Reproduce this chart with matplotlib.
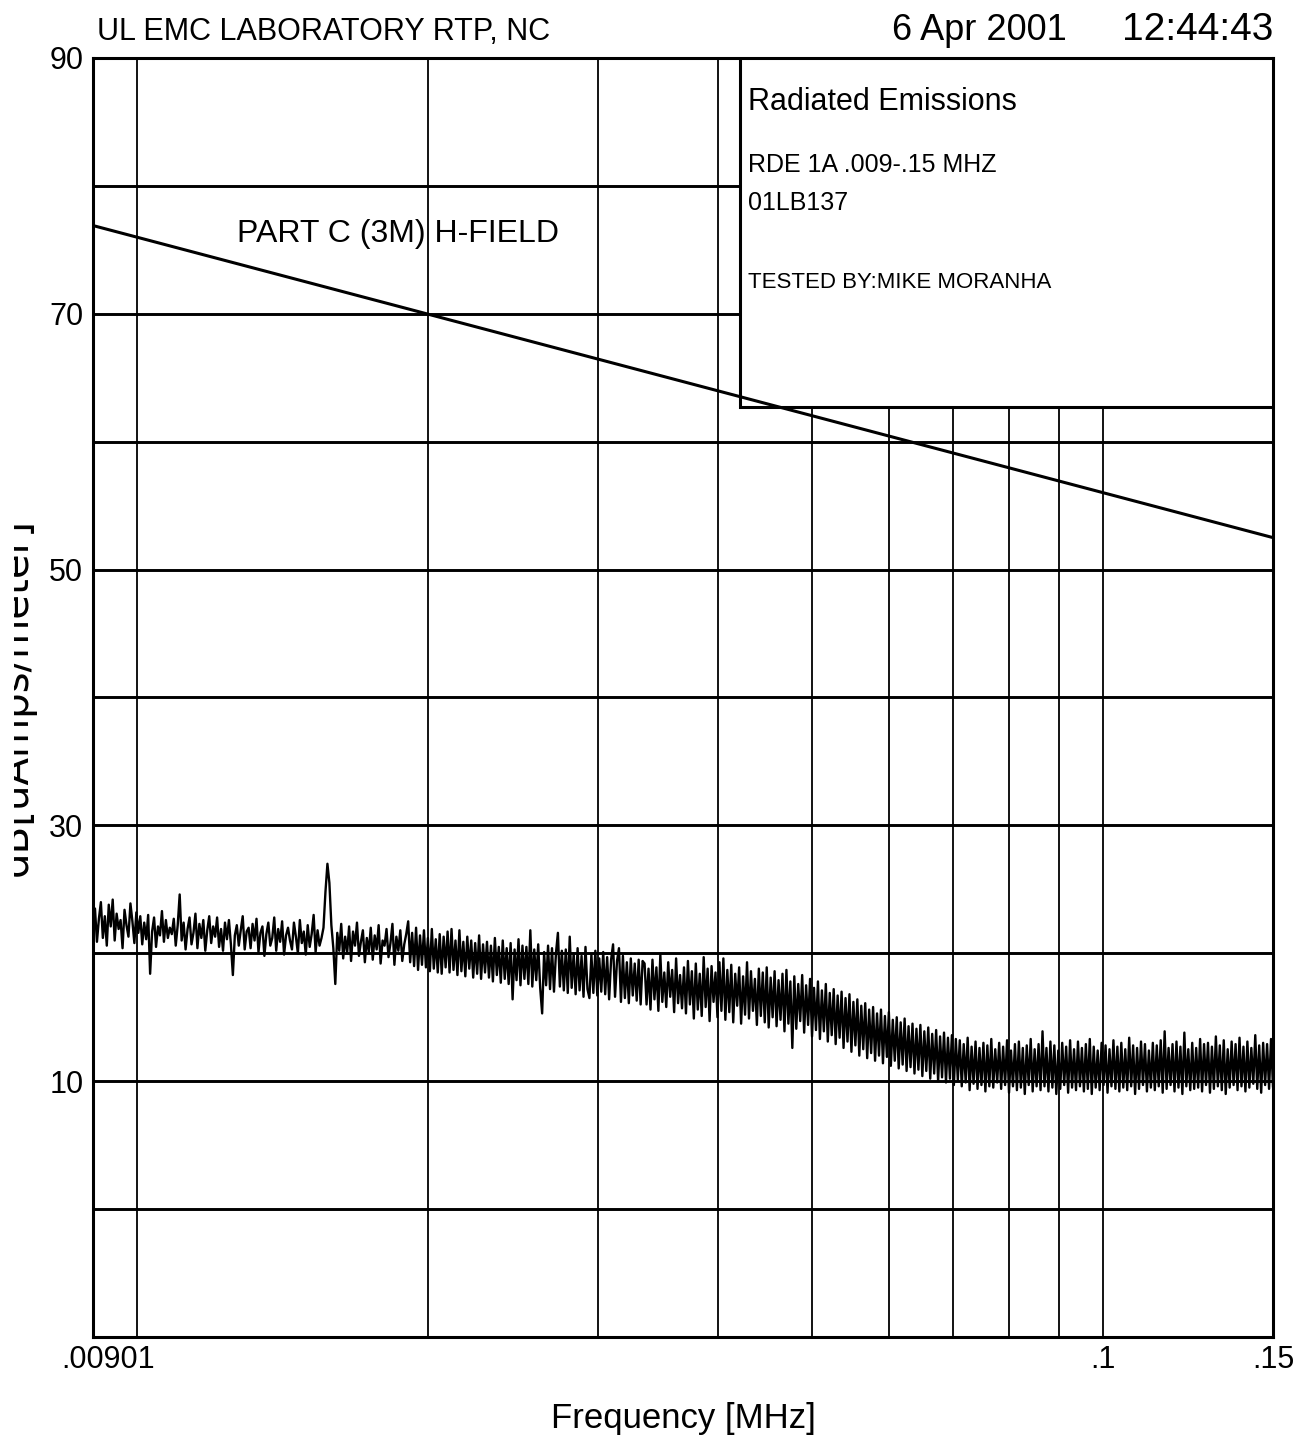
import numpy as np
import matplotlib.pyplot as plt
from matplotlib.patches import Rectangle
from matplotlib.ticker import NullLocator
from matplotlib.transforms import Bbox, TransformedBbox

plt.rcParams['font.family'] = ['Liberation Sans', 'DejaVu Sans']

# sweep range [MHz]
f_start, f_stop = 0.00901, 0.15

# grid
grid_freqs = [0.01, 0.02, 0.03, 0.04, 0.05, 0.06, 0.07, 0.08, 0.09, 0.1]
grid_levels = [0, 10, 20, 30, 40, 50, 60, 70, 80]
ytick_levels = [10, 30, 50, 70, 90]
xtick_freqs = [0.00901, 0.1, 0.15]
xtick_labels = ['.00901', '.1', '.15']

# Part C (3m) H-field limit
limit_freq = [0.00901, 0.15]
limit_level = [76.9, 52.5]

trace_level = np.array([
    21.8, 23.5, 20.9, 22.7, 24.0, 21.2, 22.9, 20.6, 23.8, 22.1, 24.2, 21.0, 23.1, 21.9, 22.6, 20.4, 23.4, 22.2, 21.3, 23.9,
    22.5, 20.8, 23.2, 21.6, 22.9, 20.7, 22.4, 21.1, 23.0, 18.4, 21.7, 22.8, 20.5, 22.1, 21.4, 23.3, 20.9, 22.6, 21.2, 22.0,
    21.5, 22.7, 20.6, 22.2, 24.6, 21.0, 22.4, 20.3, 21.9, 22.8, 20.7, 21.6, 23.1, 20.4, 22.3, 21.2, 22.6, 20.2, 21.8, 22.9,
    20.8, 22.1, 21.3, 22.8, 20.5, 21.9, 20.2, 22.4, 21.1, 22.6, 20.7, 18.3, 21.4, 22.2, 20.6, 21.8, 22.9, 20.3, 21.7, 22.0,
    20.4, 22.3, 21.0, 22.7, 20.1, 21.6, 22.1, 19.8, 21.5, 22.4, 20.6, 21.2, 22.8, 20.2, 21.9, 20.9, 22.5, 19.9, 21.4, 22.0,
    21.0, 20.3, 22.4, 21.3, 20.0, 22.6, 20.8, 21.7, 19.9, 22.2, 20.5, 21.5, 23.0, 20.1, 21.8, 20.6, 21.2, 22.0, 24.8, 27.0,
    25.5, 22.2, 20.4, 17.6, 21.6, 20.2, 22.3, 19.6, 21.3, 20.0, 22.1, 19.4, 21.7, 20.6, 22.4, 19.8, 20.9, 21.8, 19.3, 21.2,
    20.1, 22.0, 19.5, 21.4, 20.3, 22.2, 19.2, 21.0, 20.6, 21.9, 19.7, 20.8, 22.3, 19.1, 21.3, 20.2, 21.8, 19.4, 20.7, 21.5,
    22.5, 19.3, 21.6, 19.0, 22.0, 18.7, 21.4, 19.1, 21.8, 18.9, 21.2, 18.6, 21.9, 18.8, 21.1, 18.5, 21.5, 18.4, 21.3, 18.9,
    21.7, 18.5, 21.9, 18.7, 21.0, 18.3, 21.8, 18.6, 20.9, 18.2, 21.3, 18.8, 21.0, 18.1, 20.8, 18.4, 21.4, 18.0, 20.7, 18.5,
    20.9, 18.1, 20.6, 17.8, 21.2, 18.3, 20.5, 17.7, 21.0, 18.0, 20.4, 17.6, 20.8, 16.4, 20.3, 17.9, 21.1, 17.5, 20.6, 18.0,
    20.5, 17.6, 21.8, 17.4, 20.3, 17.9, 20.7, 17.3, 15.3, 20.1, 17.5, 20.6, 17.2, 20.4, 17.0, 20.0, 21.6, 17.4, 20.2, 17.1,
    20.3, 16.9, 21.3, 17.3, 20.0, 16.8, 20.4, 17.1, 19.8, 16.6, 20.5, 17.2, 16.5, 19.9, 16.9, 20.2, 16.7, 19.6, 17.0, 20.1,
    16.8, 19.7, 16.4, 19.5, 20.7, 16.6, 19.4, 20.4, 16.2, 19.8, 16.5, 19.3, 16.1, 19.6, 16.7, 19.2, 16.3, 19.5, 16.0, 19.4,
    19.2, 16.0, 18.8, 15.6, 19.5, 16.4, 18.9, 15.5, 19.9, 16.2, 18.5, 15.8, 19.3, 16.6, 18.7, 15.4, 19.6, 16.1, 18.3, 15.7,
    18.9, 15.3, 19.4, 16.0, 18.6, 14.9, 19.2, 15.6, 18.4, 15.1, 19.7, 15.8, 18.8, 14.7, 19.0, 16.2, 18.5, 15.0, 19.3, 15.5,
    19.6, 14.8, 18.7, 15.4, 19.1, 14.6, 18.4, 15.9, 18.9, 14.5, 18.2, 15.2, 19.3, 14.9, 18.6, 15.5, 18.0, 14.4, 18.8, 15.1,
    18.5, 14.6, 18.9, 14.2, 18.1, 15.0, 18.6, 14.3, 17.9, 14.8, 18.4, 13.9, 18.7, 14.5, 17.8, 12.6, 18.2, 14.1, 17.6, 14.7,
    18.3, 13.8, 17.5, 14.4, 18.0, 13.5, 17.3, 14.0, 17.8, 13.3, 17.1, 13.9, 17.6, 13.1, 16.9, 13.6, 17.2, 12.9, 16.7, 13.4,
    17.0, 12.6, 16.5, 13.1, 16.8, 12.3, 16.2, 12.8, 16.4, 12.0, 15.9, 12.5, 16.1, 11.8, 15.6, 12.2, 15.8, 11.6, 15.3, 12.0,
    15.6, 11.4, 15.1, 11.9, 15.4, 11.2, 14.8, 11.6, 15.0, 11.0, 14.6, 11.3, 14.9, 10.8, 14.3, 11.1, 14.5, 10.6, 14.1, 10.9,
    14.4, 10.4, 13.9, 10.8, 14.2, 10.2, 13.7, 10.6, 14.0, 10.0, 13.5, 10.3, 13.8, 9.9, 13.4, 10.2, 13.6, 9.7, 13.3, 10.1,
    13.2, 9.6, 12.9, 9.9, 13.4, 9.3, 12.7, 9.8, 13.1, 9.4, 12.6, 9.7, 13.0, 9.2, 12.8, 9.6, 13.3, 9.5, 12.5, 9.9,
    13.0, 9.4, 12.7, 9.7, 13.2, 9.1, 12.4, 9.6, 12.9, 9.3, 13.1, 9.5, 12.6, 9.0, 12.8, 9.7, 13.3, 9.2, 12.5, 9.6,
    12.9, 9.3, 13.9, 9.6, 12.6, 9.2, 13.1, 9.5, 12.8, 9.0, 12.4, 9.4, 13.0, 9.7, 12.7, 9.1, 13.2, 9.5, 12.5, 9.3,
    13.1, 9.6, 12.6, 9.2, 12.9, 9.4, 13.3, 9.0, 12.7, 9.5, 12.4, 9.3, 13.0, 9.7, 12.8, 9.1, 12.5, 9.6, 13.2, 9.4,
    12.7, 9.2, 13.0, 9.5, 12.5, 9.3, 13.4, 9.6, 12.8, 9.0, 12.6, 9.4, 13.1, 9.7, 12.9, 9.2, 12.4, 9.5, 13.0, 9.3,
    12.8, 9.6, 13.2, 9.1, 13.9, 9.4, 12.6, 9.7, 12.9, 9.2, 13.1, 9.5, 12.7, 9.0, 13.8, 9.6, 12.5, 9.3, 13.0, 9.4,
    12.6, 9.5, 13.3, 9.2, 12.9, 9.7, 13.0, 9.1, 12.7, 9.4, 13.5, 9.6, 12.8, 9.3, 13.2, 9.0, 12.5, 9.5, 13.1, 9.7,
    12.9, 9.3, 13.4, 9.6, 12.7, 9.2, 13.1, 9.5, 12.6, 9.8, 13.6, 9.4, 12.8, 9.1, 13.0, 9.7, 12.9, 9.4, 13.3, 9.6,
])
trace_freq = np.geomspace(f_start, f_stop, len(trace_level))

W, H = 1312, 1447
fig = plt.figure(figsize=(W / 100, H / 100), dpi=100)
ax = fig.add_axes([93 / W, 1 - 1337 / H, 1180 / W, 1279 / H])

ax.set_xscale('log')
ax.set_xlim(f_start, f_stop)
ax.set_ylim(-10, 90)
ax.xaxis.set_minor_locator(NullLocator())
ax.set_xticks([])

# grid lines
for lv in grid_levels:
    ax.axhline(lv, color='black', lw=2.1, zorder=1)
for fq in grid_freqs:
    ax.axvline(fq, color='black', lw=1.3, zorder=1)

for s in ax.spines.values():
    s.set_linewidth(2.2)

# y labels
ax.set_yticks(ytick_levels)
ax.set_yticklabels([str(v) for v in ytick_levels], fontsize=22)
ax.tick_params(axis='y', length=0, pad=7)

# x labels
for fq, lab in zip(xtick_freqs, xtick_labels):
    dx = 11 if lab == '.00901' else 0
    ax.annotate(lab, xy=(fq, 0), xycoords=('data', 'axes fraction'),
                xytext=(dx, -6), textcoords='offset points',
                ha='center', va='top', fontsize=22)

# info box covering the grid
box = Rectangle((0.5483, 0.7271), 1 - 0.5483, 1 - 0.7271, transform=ax.transAxes,
                facecolor='white', edgecolor='black', lw=2.2, zorder=3)
ax.add_patch(box)

# limit line and trace
ax.plot(limit_freq, limit_level, color='black', lw=2.2, zorder=4)
ax.plot(trace_freq, trace_level, color='black', lw=1.7, zorder=4)

ax.text((237 - 93) / 1180, (1337 - 242) / 1279, 'PART C (3M) H-FIELD',
        transform=ax.transAxes, va='baseline', ha='left', fontsize=23, zorder=5)

# header / box texts
fig.text(97 / W, 1 - 40 / H, 'UL EMC LABORATORY RTP, NC', va='baseline', fontsize=22)
fig.text(1067 / W, 1 - 40 / H, '6 Apr 2001', va='baseline', ha='right', fontsize=26)
fig.text(1273 / W, 1 - 40 / H, '12:44:43', va='baseline', ha='right', fontsize=28)

fig.text(748 / W, 1 - 110 / H, 'Radiated Emissions', va='baseline', fontsize=22)
fig.text(748 / W, 1 - 172 / H, 'RDE 1A .009-.15 MHZ', va='baseline', fontsize=18)
fig.text(748 / W, 1 - 210 / H, '01LB137', va='baseline', fontsize=18)
fig.text(748 / W, 1 - 288 / H, 'TESTED BY:MIKE MORANHA', va='baseline', fontsize=16)

fig.text(683 / W, 1 - 1428 / H, 'Frequency [MHz]', va='baseline', ha='center', fontsize=25)

# y label, cut off at the left edge as in the scan
ylab = fig.text(27 / W, 1 - 697 / H, 'dB[uAmps/meter]', rotation=90, rotation_mode='anchor',
                ha='center', va='baseline', fontsize=29, family=['DejaVu Sans'])
ylab.set_clip_box(TransformedBbox(Bbox([[14 / W, 0], [1, 1]]), fig.transFigure))
ylab.set_clip_on(True)

fig.savefig('out.png', dpi=100)
